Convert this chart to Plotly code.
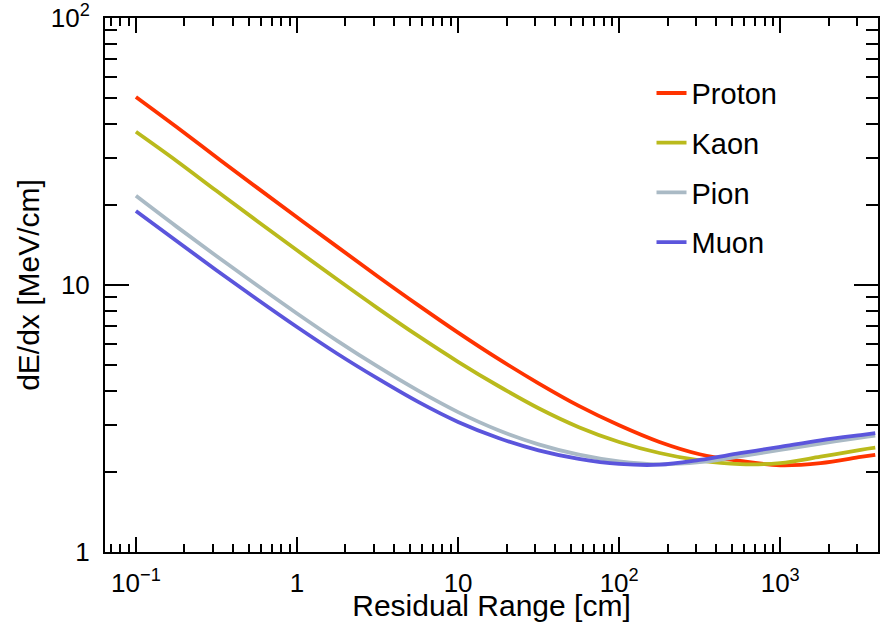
import plotly.graph_objects as go

# Residual range [cm] (quarter-decade samples)
x_vals = [0.1, 0.178, 0.316, 0.562, 1.0, 1.78, 3.16, 5.62, 10, 17.8,
          31.6, 56.2, 100, 178, 316, 562, 1000, 1780, 3160, 3890]

# dE/dx [MeV/cm]
proton = [50.58, 39.12, 30.10, 23.21, 17.94, 13.89, 10.79, 8.427, 6.634, 5.288,
          4.284, 3.526, 2.982, 2.582, 2.323, 2.193, 2.113, 2.153, 2.270, 2.312]
kaon   = [37.50, 29.22, 22.53, 17.41, 13.49, 10.48, 8.195, 6.458, 5.158, 4.185,
          3.455, 2.935, 2.583, 2.348, 2.202, 2.133, 2.152, 2.275, 2.415, 2.460]
pion   = [21.58, 16.58, 12.84, 9.995, 7.822, 6.178, 4.953, 4.028, 3.341, 2.858,
          2.531, 2.315, 2.184, 2.130, 2.169, 2.280, 2.412, 2.549, 2.681, 2.726]
muon   = [18.92, 14.64, 11.36, 8.861, 6.960, 5.527, 4.467, 3.656, 3.069, 2.673,
          2.404, 2.234, 2.138, 2.123, 2.213, 2.344, 2.477, 2.618, 2.742, 2.786]

names = ["Proton", "Kaon", "Pion", "Muon"]
series = [proton, kaon, pion, muon]
colors = ["#FF3300", "#BABA1C", "#AABAC5", "#5B55DC"]

x_major = [0.1, 1, 10, 100, 1000]
x_major_text = ["10<sup>\u22121</sup>", "1", "10", "10<sup>2</sup>", "10<sup>3</sup>"]
y_major = [1, 10, 100]
y_major_text = ["1", "10", "10<sup>2</sup>"]

x_minor = [m * 10 ** e for e in range(-2, 4) for m in range(2, 10)]
y_minor = [m * 10 ** e for e in range(0, 2) for m in range(2, 10)]

FONT = "Liberation Sans, Arial, Helvetica, sans-serif"

fig = go.Figure()
for n, s, c in zip(names, series, colors):
    fig.add_trace(go.Scatter(
        x=x_vals, y=s, name=n, mode="lines",
        line=dict(color=c, width=3.8, shape="spline", smoothing=1.0),
        legendgroup=n,
    ))

fig.update_layout(
    width=880, height=622,
    margin=dict(l=105, r=0, t=18, b=70),
    paper_bgcolor="white", plot_bgcolor="white",
    font=dict(family=FONT, color="black", size=26),
    showlegend=True,
    legend=dict(x=0.707, y=0.907, xanchor="left", yanchor="top",
                font=dict(size=29, family=FONT), bgcolor="rgba(0,0,0,0)",
                tracegroupgap=9, itemwidth=30),
)

fig.update_xaxes(
    type="log", range=[-1.192, 3.607],
    showgrid=False, zeroline=False,
    showline=True, linecolor="black", linewidth=2, mirror="allticks",
    ticks="inside", ticklen=15, tickwidth=1.5, tickcolor="black",
    tickvals=x_major, ticktext=x_major_text,
    tickfont=dict(size=26, family=FONT),
    ticklabelstandoff=7,
    minor=dict(tickvals=x_minor, ticks="inside", ticklen=8, tickwidth=1.5,
               tickcolor="black", showgrid=False),
    title=dict(text="Residual Range [cm]", font=dict(size=30, family=FONT), standoff=0),
)
fig.update_yaxes(
    type="log", range=[0, 2],
    showgrid=False, zeroline=False,
    showline=True, linecolor="black", linewidth=2, mirror="allticks",
    ticks="inside", ticklen=24, tickwidth=1.5, tickcolor="black",
    tickvals=y_major, ticktext=y_major_text,
    tickfont=dict(size=26, family=FONT),
    ticklabelstandoff=8,
    minor=dict(tickvals=y_minor, ticks="inside", ticklen=12, tickwidth=1.5,
               tickcolor="black", showgrid=False),
    title=dict(text="dE/dx [MeV/cm]", font=dict(size=30, family=FONT), standoff=2),
)

fig.write_html("out.html")
